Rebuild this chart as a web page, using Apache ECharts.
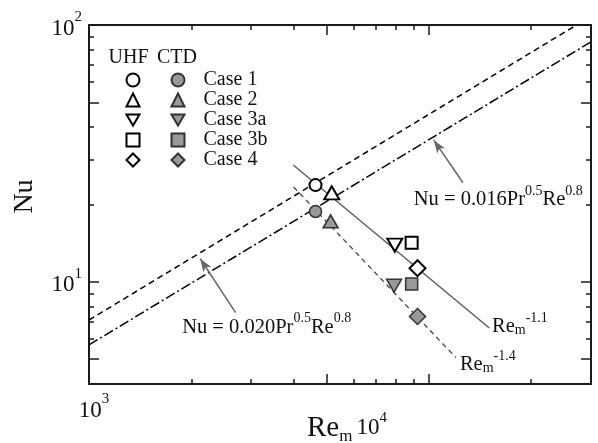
<!DOCTYPE html>
<html>
<head>
<meta charset="utf-8">
<script src="https://cdn.jsdelivr.net/npm/echarts@6/dist/echarts.min.js"></script>
<style>
  html, body { margin: 0; padding: 0; background: #fff; }
  #chart { width: 598px; height: 443px; }
</style>
</head>
<body>
<div id="chart"></div>
<script>
// Measured Nusselt numbers for each case: uniform heat flux (UHF) and constant temperature difference (CTD)
const caseNames = ['Case 1', 'Case 2', 'Case 3a', 'Case 3b', 'Case 4'];
const uhfRe = [4640, 5180, 7940, 8900, 9260];
const uhfNu = [23.8, 22.2, 13.9, 14.2, 11.3];
const ctdRe = [4640, 5140, 7900, 8900, 9260];
const ctdNu = [18.8, 17.2, 9.65, 9.8, 7.33];

// Dittus-Boelter type correlations (line endpoints)
const corr020Re = [1000, 27200];
const corr020Nu = [7.1, 100];
const corr016Re = [1000, 30000];
const corr016Nu = [5.68, 86];

// Power-law trends through the data (line endpoints)
const trend11Re = [3990, 15060];
const trend11Nu = [28.5, 6.61];
const trend14Re = [4000, 12010];
const trend14Nu = [23.4, 5.07];

// Pointer arrows from the correlation labels to their lines: [tail, tip]
const arrow016 = [[12600, 24.3], [10340, 35.6]];
const arrow020 = [[2700, 7.58], [2125, 12.3]];

// Axis ticks and labels
const xMajorTicks = [1000, 5000, 10000];
const xMinorTicks = [2000, 3000, 4000, 6000, 7000, 8000, 9000, 20000];
const yMajorTicks = [5, 10, 50];
const yMinorTicks = [6, 7, 8, 9, 20, 30, 40, 60, 70, 80, 90];
const xTickLabels = [1000];
const yTickLabels = [10, 100];

const serif = '"Liberation Serif", "Times New Roman", serif';
const ink = '#111';
const axisColor = '#1a1a1a';

// Marker shapes; the downward triangle is a path so legend icons keep its orientation
const downTriangle = 'path://M0,0 L14,0 L7,12 Z';
const markerShapes = ['circle', 'triangle', downTriangle, 'rect', 'diamond'];
const markerSizes = [12, [15, 13], [15, 13], 12, 16];

function pairs(xs, ys) { return xs.map((x, i) => [x, ys[i]]); }

// Rich text styles: base text, superscript, subscript
const annRich = {
  a: { fontFamily: serif, fontSize: 20.5, lineHeight: 26, verticalAlign: 'bottom', color: ink },
  s: { fontFamily: serif, fontSize: 14, lineHeight: 14, verticalAlign: 'top', color: ink },
  d: { fontFamily: serif, fontSize: 14, lineHeight: 14, verticalAlign: 'bottom', color: ink }
};
const tickRich = {
  b: { fontFamily: serif, fontSize: 23, lineHeight: 30, verticalAlign: 'bottom', color: ink },
  s: { fontFamily: serif, fontSize: 15, lineHeight: 15, verticalAlign: 'top', color: ink }
};
function powerLabel(v) {
  return '{b|10}{s|' + Math.round(Math.log10(v)) + '}';
}

function textMark(coord, text) {
  return {
    coord: coord,
    symbolSize: 0,
    label: { show: true, position: 'right', distance: 0, formatter: () => text, rich: annRich }
  };
}

function arrowMark(arrow) {
  return [{ coord: arrow[0] }, { coord: arrow[1] }];
}

function xAxisDef(position, ticks, len, main) {
  return {
    type: 'log', logBase: 10, min: 1000, max: 30000, position: position, gridIndex: 0,
    axisLine: { show: main, onZero: false, lineStyle: { color: axisColor, width: 2 } },
    axisTick: { show: true, inside: true, length: len, customValues: ticks, lineStyle: { color: axisColor, width: 1.5 } },
    axisLabel: { show: false },
    splitLine: { show: false }, minorTick: { show: false }, minorSplitLine: { show: false },
    axisPointer: { show: false }
  };
}
function yAxisDef(position, ticks, len, main) {
  return {
    type: 'log', logBase: 10, min: 4, max: 100, position: position, gridIndex: 0,
    axisLine: { show: main, onZero: false, lineStyle: { color: axisColor, width: 2 } },
    axisTick: { show: true, inside: true, length: len, customValues: ticks, lineStyle: { color: axisColor, width: 1.5 } },
    axisLabel: { show: false },
    splitLine: { show: false }, minorTick: { show: false }, minorSplitLine: { show: false },
    axisPointer: { show: false }
  };
}

const xBottom = xAxisDef('bottom', xMajorTicks, 10, true);
xBottom.axisLabel = {
  show: true, customValues: xTickLabels, margin: 8, formatter: powerLabel, rich: tickRich,
  padding: [0, 0, 0, 10]
};
xBottom.name = '{r|Re}{m|m}{b|10}{s|4}';
xBottom.nameLocation = 'middle';
xBottom.nameGap = 27;
xBottom.nameMoveOverlap = false;
xBottom.nameTextStyle = {
  padding: [0, 0, 0, 14],
  rich: {
    r: { fontFamily: serif, fontSize: 29, lineHeight: 34, verticalAlign: 'middle', color: ink },
    m: { fontFamily: serif, fontSize: 17, lineHeight: 17, verticalAlign: 'bottom', color: ink, padding: [0, 4, 0, 0] },
    b: { fontFamily: serif, fontSize: 23, lineHeight: 34, verticalAlign: 'middle', color: ink },
    s: { fontFamily: serif, fontSize: 15, lineHeight: 15, verticalAlign: 'top', color: ink }
  }
};

const yLeft = yAxisDef('left', yMajorTicks, 10, true);
yLeft.axisLabel = { show: true, customValues: yTickLabels, margin: 7, formatter: powerLabel, rich: tickRich };
yLeft.name = 'Nu';
yLeft.nameLocation = 'middle';
yLeft.nameGap = 50;
yLeft.nameMoveOverlap = false;
yLeft.nameTextStyle = { fontFamily: serif, fontSize: 28, color: ink, padding: [0, 0, 0, 16] };

const uhfSeries = caseNames.map((c, i) => ({
  name: 'UHF ' + c, type: 'scatter', xAxisIndex: 0, yAxisIndex: 0,
  symbol: markerShapes[i], symbolSize: markerSizes[i],
  data: [[uhfRe[i], uhfNu[i]]],
  itemStyle: { color: '#fff', borderColor: '#000', borderWidth: 2, opacity: 1 },
  z: 6, silent: true
}));
const ctdSeries = caseNames.map((c, i) => ({
  name: 'CTD ' + c, type: 'scatter', xAxisIndex: 0, yAxisIndex: 0,
  symbol: markerShapes[i], symbolSize: markerSizes[i],
  data: [[ctdRe[i], ctdNu[i]]],
  itemStyle: { color: '#999', borderColor: '#333', borderWidth: 1.5, opacity: 1 },
  z: 6, silent: true
}));

const arrowStyle = { color: '#666', width: 1.5, type: 'solid' };

const lineSeries = [
  {
    name: 'corr020', type: 'line', data: pairs(corr020Re, corr020Nu), symbol: 'none', silent: true, z: 3,
    lineStyle: { color: '#000', width: 1.5, type: [6, 4] },
    markLine: {
      silent: true, symbol: ['none', 'arrow'], symbolSize: [7, 13], label: { show: false },
      lineStyle: arrowStyle, data: [arrowMark(arrow020)]
    },
    markPoint: {
      silent: true, symbol: 'circle',
      data: [textMark([1880, 6.81], '{a|Nu = 0.020Pr}{s|0.5}{a|Re}{s|0.8}')]
    }
  },
  {
    name: 'corr016', type: 'line', data: pairs(corr016Re, corr016Nu), symbol: 'none', silent: true, z: 3,
    lineStyle: { color: '#000', width: 1.5, type: [10, 3, 2, 3] },
    markLine: {
      silent: true, symbol: ['none', 'arrow'], symbolSize: [7, 13], label: { show: false },
      lineStyle: arrowStyle, data: [arrowMark(arrow016)]
    },
    markPoint: {
      silent: true, symbol: 'circle',
      data: [textMark([9030, 21.4], '{a|Nu = 0.016Pr}{s|0.5}{a|Re}{s|0.8}')]
    }
  },
  {
    name: 'trend11', type: 'line', data: pairs(trend11Re, trend11Nu), symbol: 'none', silent: true, z: 3,
    lineStyle: { color: '#555', width: 1.3, type: 'solid' },
    markPoint: {
      silent: true, symbol: 'circle',
      data: [textMark([15340, 6.82], '{a|Re}{d|m}{s|-1.1}')]
    }
  },
  {
    name: 'trend14', type: 'line', data: pairs(trend14Re, trend14Nu), symbol: 'none', silent: true, z: 3,
    lineStyle: { color: '#444', width: 1.3, type: [5, 4] },
    markPoint: {
      silent: true, symbol: 'circle',
      data: [textMark([12340, 4.86], '{a|Re}{d|m}{s|-1.4}')]
    }
  }
];

const legendText = { fontFamily: serif, fontSize: 20, lineHeight: 20, color: ink };

const chart = echarts.init(document.getElementById('chart'), null, { renderer: 'canvas' });
chart.setOption({
  animation: false,
  backgroundColor: '#fff',
  textStyle: { fontFamily: serif, color: ink },
  grid: { left: 89, top: 25, right: 7, bottom: 59, containLabel: false, outerBoundsMode: 'none' },
  xAxis: [
    xBottom,
    xAxisDef('bottom', xMinorTicks, 5, false),
    xAxisDef('top', xMajorTicks, 10, true),
    xAxisDef('top', xMinorTicks, 5, false)
  ],
  yAxis: [
    yLeft,
    yAxisDef('left', yMinorTicks, 5, false),
    yAxisDef('right', yMajorTicks, 10, true),
    yAxisDef('right', yMinorTicks, 5, false)
  ],
  legend: [
    {
      data: uhfSeries.map(s => s.name), orient: 'vertical', left: 125.5, top: 70, padding: 0,
      itemWidth: 13, itemHeight: 13, itemGap: 0, selectedMode: false,
      formatter: () => ' ',
      textStyle: legendText
    },
    {
      data: ctdSeries.map(s => s.name), orient: 'vertical', left: 170.5, top: 70, padding: 0,
      itemWidth: 13, itemHeight: 13, itemGap: 0, selectedMode: false,
      formatter: n => n.slice(4),
      textStyle: Object.assign({}, legendText, { padding: [0, 0, 0, 14] })
    }
  ],
  graphic: [
    { type: 'text', x: 128.5, y: 58, silent: true,
      style: { text: 'UHF', fontFamily: serif, fontSize: 20, fill: ink, align: 'center', verticalAlign: 'middle' } },
    { type: 'text', x: 177, y: 58, silent: true,
      style: { text: 'CTD', fontFamily: serif, fontSize: 20, fill: ink, align: 'center', verticalAlign: 'middle' } }
  ],
  series: [...lineSeries, ...uhfSeries, ...ctdSeries]
});
</script>
</body>
</html>
